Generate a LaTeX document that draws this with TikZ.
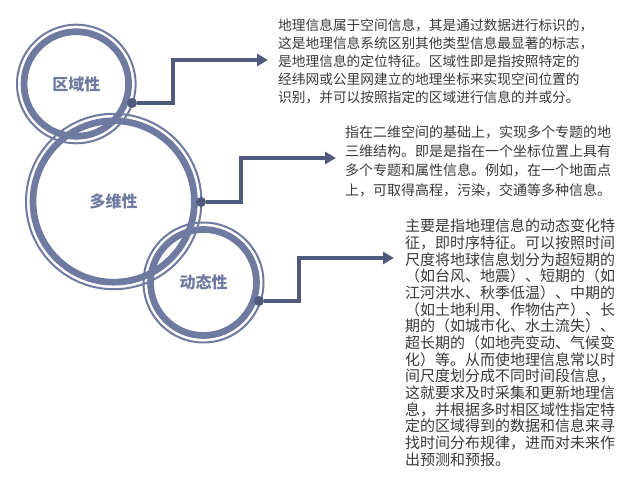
\documentclass[tikz,border=0pt]{standalone}
\usepackage{fontspec}
\newfontfamily\cjk{Noto Sans CJK SC}
\usetikzlibrary{arrows.meta}
\definecolor{ringc}{HTML}{6F7AA0}
\definecolor{linkc}{HTML}{505A7D}
\definecolor{txtc}{HTML}{3A3A3A}
\tikzset{
  ring/.style={circle, draw=ringc, line width=6.7pt, inner sep=0pt, text=ringc,
    font=\cjk\bfseries\fontsize{16}{18}\selectfont},
  halo/.style={draw=ringc, line width=2pt},
  dot/.style={circle, fill=linkc, inner sep=0pt, minimum size=10pt},
  link/.style={draw=linkc, line width=3.5pt, -{Triangle[length=11pt,width=12pt]}},
  desc/.style={anchor=north west, align=left, inner sep=0pt, text=txtc}
}
\begin{document}
\begin{tikzpicture}[x=1pt,y=-1pt]
\useasboundingbox (0,0) rectangle (640,486);
\node[ring, minimum size=104.6pt] (R1) at (76.3,84){区域性};
\draw[halo] (R1.center) circle[radius=59.3pt];
\node[ring, minimum size=161.4pt] (R2) at (113.7,201.5){多维性};
\draw[halo] (R2.center) circle[radius=87.7pt];
\node[ring, minimum size=106pt] (R3) at (203.5,282.5){动态性};
\draw[halo] (R3.center) circle[radius=60pt];
\node[dot] (D1) at (132,103){};
\node[dot] (D2) at (201,202){};
\node[dot] (D3) at (259,301){};
\coordinate (B1) at (173,60);
\coordinate (A1) at (268,60);
\coordinate (B2) at (241,158);
\coordinate (A2) at (336,158);
\coordinate (B3) at (299,258);
\coordinate (A3) at (394,258);
\draw[link] (D1.east) -| (B1) -- (A1);
\draw[link] (D2.east) -| (B2) -- (A2);
\draw[link] (D3.east) -| (B3) -- (A3);
\node[desc, font=\cjk\fontsize{13.7}{18}\selectfont] (T1) at (278,19){%
地理信息属于空间信息，其是通过数据进行标识的，\\
这是地理信息系统区别其他类型信息最显著的标志，\\
是地理信息的定位特征。区域性即是指按照特定的\\
经纬网或公里网建立的地理坐标来实现空间位置的\\
识别，并可以按照指定的区域进行信息的并或分。};
\node[desc, font=\cjk\fontsize{14}{19.4}\selectfont] (T2) at (345,125){%
指在二维空间的基础上，实现多个专题的地\\
三维结构。即是是指在一个坐标位置上具有\\
多个专题和属性信息。例如，在一个地面点\\
上，可取得高程，污染，交通等多种信息。};
\node[desc, font=\cjk\fontsize{15}{16.65}\selectfont] (T3) at (405,219){%
主要是指地理信息的动态变化特\\
征，即时序特征。可以按照时间\\
尺度将地球信息划分为超短期的\\
（如台风、地震）、短期的（如\\
江河洪水、秋季低温）、中期的\\
（如土地利用、作物估产）、长\\
期的（如城市化、水土流失）、\\
超长期的（如地壳变动、气候变\\
化）等。从而使地理信息常以时\\
间尺度划分成不同时间段信息，\\
这就要求及时采集和更新地理信\\
息，并根据多时相区域性指定特\\
定的区域得到的数据和信息来寻\\
找时间分布规律，进而对未来作\\
出预测和预报。};
\end{tikzpicture}
\end{document}
